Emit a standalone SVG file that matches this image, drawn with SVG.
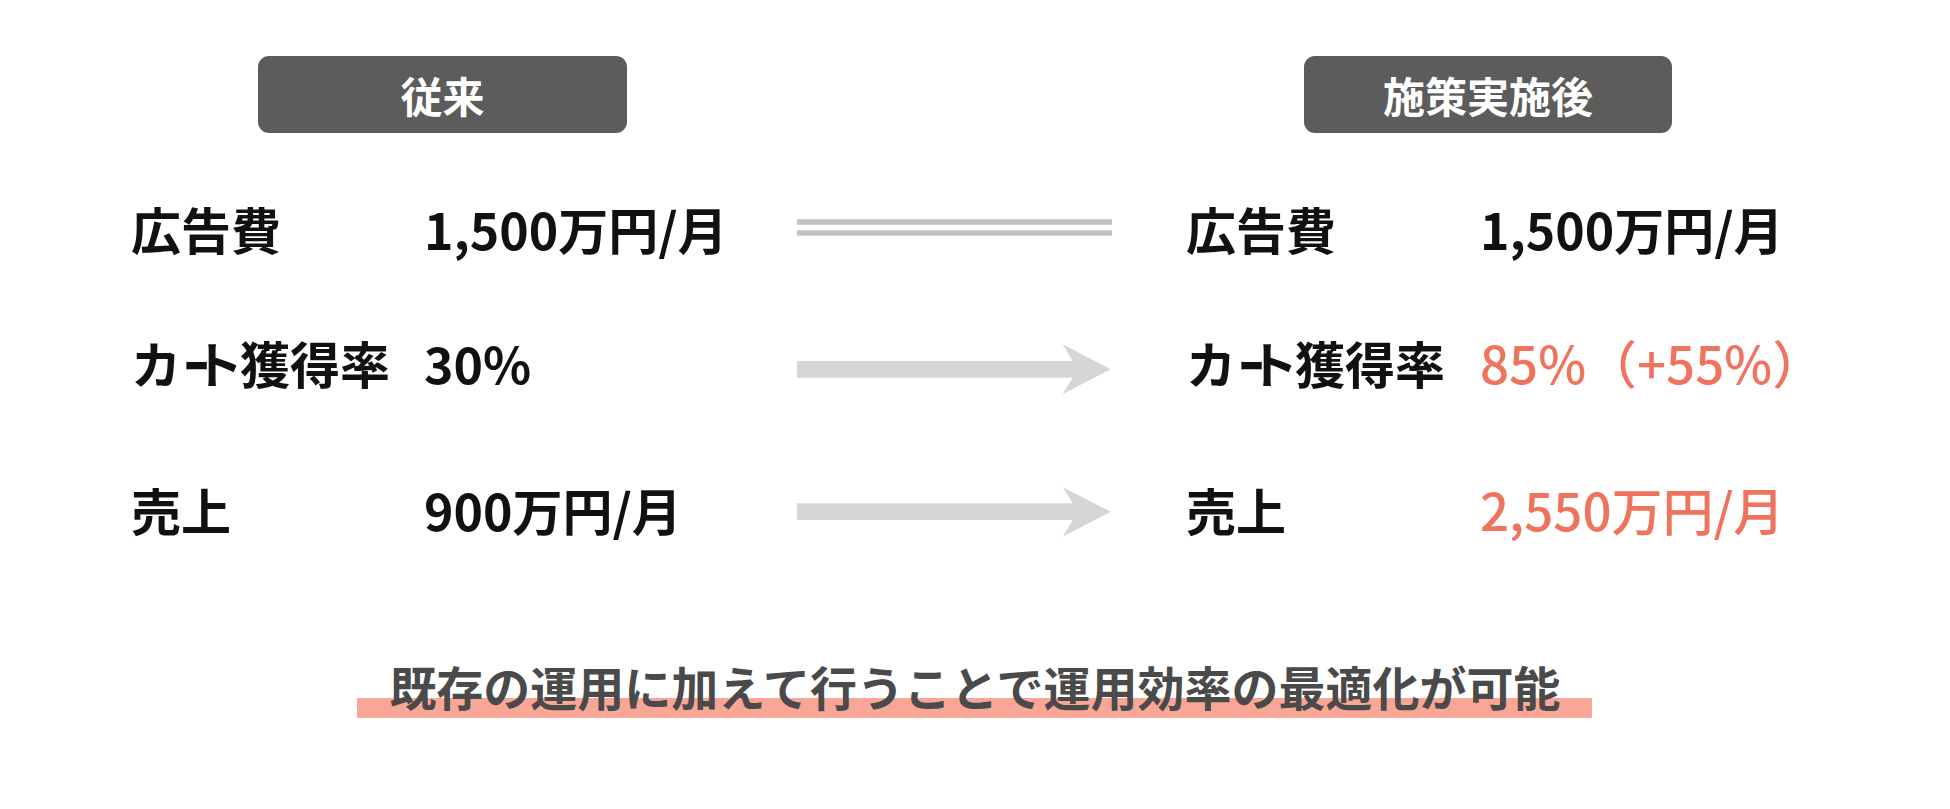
<svg xmlns="http://www.w3.org/2000/svg" width="1950" height="809" viewBox="0 0 1950 809">
<style>
text{font-family:"Noto Sans CJK JP","Noto Sans CJK SC",sans-serif}
.hdr{fill:#5c5c5c}
.ht{fill:#ffffff;font-size:42px;font-weight:700;text-anchor:middle}
.lb{fill:#111111;font-size:50px;font-weight:700}
.vl{fill:#111111;font-size:50px;font-weight:700}
.hi{fill:#ef735d;font-size:51px;font-weight:500}
.eq{stroke:#c2c2c2;stroke-width:5.5;fill:none}
.arr{fill:#d6d6d6}
.note{fill:#4a4a4a;font-size:47px;font-weight:700;text-anchor:middle}
</style>
<rect width="1950" height="809" fill="#ffffff"/>
<g id="header-before">
<rect class="hdr" x="258" y="56" width="369" height="77" rx="11"/>
<text class="ht" x="442.5" y="113">従来</text>
</g>
<g id="header-after">
<rect class="hdr" x="1304" y="56" width="368" height="77" rx="11"/>
<text class="ht" x="1488" y="113">施策実施後</text>
</g>
<g id="before-ad">
<text class="lb" x="131" y="250">広告費</text>
<text class="vl" x="424" y="250">1,500万円/月</text>
</g>
<g id="before-cart">
<text class="lb" x="131 184 193 240 290 340" y="384">カｰト獲得率</text>
<text class="vl" x="424" y="384">30%</text>
</g>
<g id="before-sales">
<text class="lb" x="131" y="531">売上</text>
<text class="vl" x="424" y="531">900万円/月</text>
</g>
<g id="after-ad">
<text class="lb" x="1186" y="250">広告費</text>
<text class="vl" x="1480" y="250">1,500万円/月</text>
</g>
<g id="after-cart">
<text class="lb" x="1186 1239 1248 1295 1345 1395" y="384">カｰト獲得率</text>
<text class="hi" x="1480" y="384">85%（+55%）</text>
</g>
<g id="after-sales">
<text class="lb" x="1186" y="531">売上</text>
<text class="hi" x="1480" y="531">2,550万円/月</text>
</g>
<g id="connectors">
<line class="eq" x1="797" y1="222" x2="1112" y2="222"/>
<line class="eq" x1="797" y1="233" x2="1112" y2="233"/>
<polygon class="arr" points="797,361 1072.7,361 1062.7,344.3 1110.7,369.3 1062.7,394 1072.7,377.7 797,377.7"/>
<polygon class="arr" points="797,503.3 1072.7,503.3 1062.7,487.3 1110.7,511.7 1062.7,536.7 1072.7,520 797,520"/>
</g>
<g id="note">
<rect x="357" y="698" width="1235" height="20" fill="#f9a697"/>
<text class="note" x="975" y="706">既存の運用に加えて行うことで運用効率の最適化が可能</text>
</g>
</svg>
